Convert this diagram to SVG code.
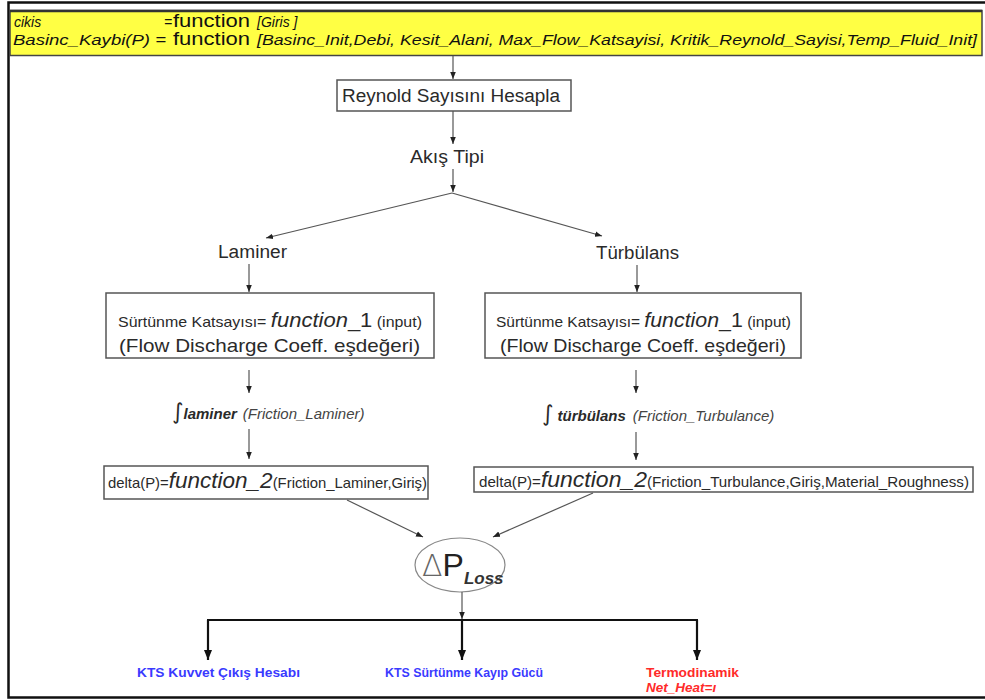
<svg xmlns="http://www.w3.org/2000/svg" width="985" height="700" viewBox="0 0 985 700">
  <style>
    text { font-family: "Liberation Sans", Arial, sans-serif; fill: #2a2a2a; }
    .box { fill: #fff; stroke: #555; stroke-width: 1.5; }
    .conn { stroke: #555; stroke-width: 1.2; fill: none; marker-end: url(#arr); }
    .bus { stroke: #111; stroke-width: 2.2; fill: none; }
    .drop { stroke: #111; stroke-width: 2.2; fill: none; marker-end: url(#arrBig); }
    .hdr { font-style: italic; font-size: 14px; fill: #111; }
    .fn { font-size: 18px; fill: #111; }
    .lbl { font-size: 18px; }
    .blue { fill: #3a3aff; font-size: 13.5px; font-weight: bold; }
    .red { fill: #ff2a2a; font-size: 13.5px; font-weight: bold; }
  </style>
  <defs>
    <marker id="arr" viewBox="0 0 10 10" refX="10" refY="5" markerWidth="7" markerHeight="7" orient="auto" markerUnits="userSpaceOnUse">
      <path d="M0,1 L10,5 L0,9 z" fill="#222"/>
    </marker>
    <marker id="arrBig" viewBox="0 0 10 10" refX="10" refY="5" markerWidth="12" markerHeight="10" orient="auto" markerUnits="userSpaceOnUse">
      <path d="M0,1 L10,5 L0,9 z" fill="#111"/>
    </marker>
  </defs>

  <rect x="0" y="0" width="985" height="700" fill="#fff"/>
  <!-- outer frame -->
  <path d="M986,2.5 H8.5 V697.5 H986" fill="none" stroke="#111" stroke-width="2.5"/>

  <!-- header definitions -->
  <g id="header">
    <rect x="10" y="10.5" width="972" height="45" fill="#ffff44" stroke="#444" stroke-width="1.5"/>
    <line x1="10" y1="11" x2="982" y2="11" stroke="#333" stroke-width="2.5"/>
    <text class="hdr" x="14" y="27">cikis</text>
    <text class="hdr" x="164" y="27">=</text>
    <text class="fn" x="173" y="27" textLength="77" lengthAdjust="spacingAndGlyphs">function</text>
    <text class="hdr" x="257" y="27">[Giris ]</text>
    <text class="hdr" x="13" y="45" textLength="153" lengthAdjust="spacingAndGlyphs">Basinc_Kaybi(P) =</text>
    <text class="fn" x="173" y="45" textLength="77" lengthAdjust="spacingAndGlyphs">function</text>
    <text class="hdr" x="257" y="45" textLength="720" lengthAdjust="spacingAndGlyphs">[Basinc_Init,Debi, Kesit_Alani, Max_Flow_Katsayisi, Kritik_Reynold_Sayisi,Temp_Fluid_Init]</text>
  </g>

  <g id="reynold">
    <rect class="box" x="337" y="80" width="234" height="31"/>
    <text class="lbl" x="342" y="102" font-size="17.5" textLength="218" lengthAdjust="spacingAndGlyphs">Reynold Sayısını Hesapla</text>
  </g>

  <g id="akis-tipi">
    <text class="lbl" x="410" y="163" textLength="74" lengthAdjust="spacingAndGlyphs">Akış Tipi</text>
  </g>

  <g id="laminer">
    <text class="lbl" x="218" y="258" textLength="69" lengthAdjust="spacingAndGlyphs">Laminer</text>
  </g>

  <g id="turbulans">
    <text class="lbl" x="596" y="259" textLength="83" lengthAdjust="spacingAndGlyphs">Türbülans</text>
  </g>

  <g id="surtunme-laminer">
    <rect class="box" x="106" y="293" width="328" height="65"/>
    <text x="118" y="327" textLength="304" lengthAdjust="spacingAndGlyphs"><tspan font-size="14.5">Sürtünme Katsayısı= </tspan><tspan font-size="20" font-style="italic">function</tspan><tspan font-size="20">_1</tspan><tspan font-size="14.5"> (input)</tspan></text>
    <text x="119" y="352" font-size="18.5" textLength="301" lengthAdjust="spacingAndGlyphs">(Flow Discharge Coeff. eşdeğeri)</text>
  </g>

  <g id="surtunme-turbulans">
    <rect class="box" x="485" y="293" width="316" height="65"/>
    <text x="496" y="327" textLength="295" lengthAdjust="spacingAndGlyphs"><tspan font-size="14.5">Sürtünme Katsayısı= </tspan><tspan font-size="20" font-style="italic">function</tspan><tspan font-size="20">_1</tspan><tspan font-size="14.5"> (input)</tspan></text>
    <text x="500" y="352" font-size="18.5" textLength="286" lengthAdjust="spacingAndGlyphs">(Flow Discharge Coeff. eşdeğeri)</text>
  </g>

  <g id="friction-laminer">
    <text x="172" y="419"><tspan font-size="22" font-family="DejaVu Sans, sans-serif">∫</tspan><tspan font-size="15" font-weight="bold" font-style="italic">laminer</tspan><tspan font-size="15" font-style="italic" fill="#444" dx="6">(Friction_Laminer)</tspan></text>
  </g>

  <g id="friction-turbulans">
    <text x="542" y="421"><tspan font-size="22" font-family="DejaVu Sans, sans-serif">∫</tspan><tspan font-size="15" font-weight="bold" font-style="italic" dx="4">türbülans</tspan><tspan font-size="15" font-style="italic" fill="#444" dx="7">(Friction_Turbulance)</tspan></text>
  </g>

  <g id="delta-laminer">
    <rect class="box" x="104" y="466" width="324" height="33"/>
    <text x="108" y="488" textLength="319" lengthAdjust="spacingAndGlyphs"><tspan font-size="14.5">delta(P)=</tspan><tspan font-size="22" font-style="italic">function_2</tspan><tspan font-size="14.5">(Friction_Laminer,Giriş)</tspan></text>
  </g>

  <g id="delta-turbulans">
    <rect class="box" x="474" y="467" width="499" height="25"/>
    <text x="479" y="487" textLength="490" lengthAdjust="spacingAndGlyphs"><tspan font-size="14.5">delta(P)=</tspan><tspan font-size="22" font-style="italic">function_2</tspan><tspan font-size="14.5">(Friction_Turbulance,Giriş,Material_Roughness)</tspan></text>
  </g>

  <g id="delta-p-loss">
    <ellipse cx="460" cy="565" rx="45" ry="27" fill="#fff" stroke="#888" stroke-width="1.2"/>
    <text x="422" y="576"><tspan font-size="30" fill="#666" font-family="DejaVu Sans, sans-serif" font-weight="200">Δ</tspan><tspan font-size="32" fill="#222">P</tspan><tspan font-size="17" font-style="italic" font-weight="bold" fill="#333" dy="8">Loss</tspan></text>
  </g>

  <g id="kuvvet">
    <text class="blue" x="137" y="677" textLength="163" lengthAdjust="spacingAndGlyphs">KTS Kuvvet Çıkış Hesabı</text>
  </g>
  <g id="kayip-gucu">
    <text class="blue" x="385" y="677" textLength="158" lengthAdjust="spacingAndGlyphs">KTS Sürtünme Kayıp Gücü</text>
  </g>
  <g id="termodinamik">
    <text class="red" x="646" y="677" textLength="93" lengthAdjust="spacingAndGlyphs">Termodinamik</text>
    <text class="red" x="646" y="692" font-style="italic" font-size="12">Net_Heat=ı</text>
  </g>

  <g id="connectors">
    <line class="conn" x1="453" y1="56" x2="453" y2="79"/>
    <line class="conn" x1="453" y1="111" x2="453" y2="144"/>
    <line class="conn" x1="453" y1="169" x2="453" y2="192"/>
    <line class="conn" x1="452" y1="193" x2="266" y2="238"/>
    <line class="conn" x1="452" y1="193" x2="602" y2="236"/>
    <line class="conn" x1="249" y1="264" x2="249" y2="292"/>
    <line class="conn" x1="637" y1="265" x2="637" y2="292"/>
    <line class="conn" x1="249" y1="370" x2="249" y2="393"/>
    <line class="conn" x1="636" y1="370" x2="636" y2="393"/>
    <line class="conn" x1="249" y1="429" x2="249" y2="459"/>
    <line class="conn" x1="636" y1="432" x2="636" y2="460"/>
    <line class="conn" x1="347" y1="500" x2="423" y2="537"/>
    <line class="conn" x1="593" y1="493" x2="493" y2="537"/>
    <line class="conn" x1="462" y1="592" x2="462" y2="619"/>
    <line class="bus" x1="207" y1="620" x2="698" y2="620"/>
    <line class="drop" x1="208" y1="620" x2="208" y2="660"/>
    <line class="drop" x1="462" y1="620" x2="462" y2="660"/>
    <line class="drop" x1="697" y1="620" x2="697" y2="660"/>
  </g>
</svg>
